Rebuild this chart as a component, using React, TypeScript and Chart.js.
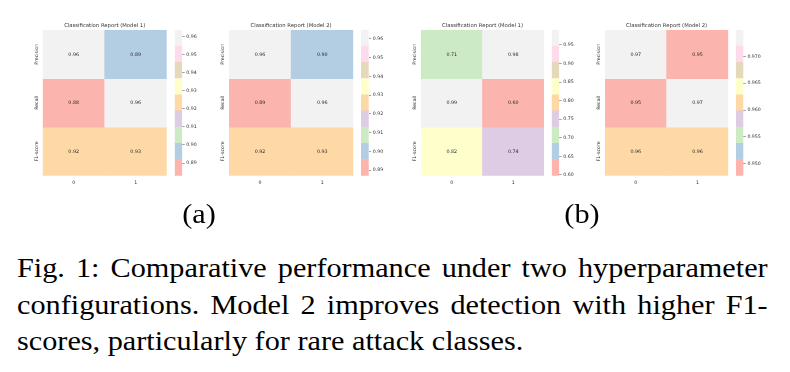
import React, { useEffect, useRef } from "react";
import { Chart, registerables } from "chart.js";

Chart.register(...registerables);

// ---------- data ----------
const rowLabels = ["Precision", "Recall", "F1-score"];
const colLabels = ["0", "1"];
const panelTitles = [
  "Classification Report (Model 1)",
  "Classification Report (Model 2)",
  "Classification Report (Model 1)",
  "Classification Report (Model 2)",
];
// values [row][col]
const valuesA1 = [
  [0.9635, 0.8945],
  [0.883, 0.96],
  [0.922, 0.9265],
];
const valuesA2 = [
  [0.9648, 0.8995],
  [0.887, 0.96],
  [0.9225, 0.927],
];
const valuesB1 = [
  [0.71, 0.98],
  [0.99, 0.598],
  [0.82, 0.74],
];
const valuesB2 = [
  [0.9749, 0.95],
  [0.9478, 0.9725],
  [0.9605, 0.961],
];
const ticksA1 = [0.89, 0.9, 0.91, 0.92, 0.93, 0.94, 0.95, 0.96];
const ticksA2 = [0.89, 0.9, 0.91, 0.92, 0.93, 0.94, 0.95, 0.96];
const ticksB1 = [0.6, 0.65, 0.7, 0.75, 0.8, 0.85, 0.9, 0.95];
const ticksB2 = [0.95, 0.955, 0.96, 0.965, 0.97];
const tickDecimals = [2, 2, 2, 3];
const subLabels = ["(a)", "(b)"];
const captionLines = [
  "Fig. 1: Comparative performance under two hyperparameter",
  "configurations. Model 2 improves detection with higher F1-",
  "scores, particularly for rare attack classes.",
];

// ---------- style / layout ----------
const pastel1 = [
  "#fbb4ae",
  "#b3cde3",
  "#ccebc5",
  "#decbe4",
  "#fed9a6",
  "#ffffcc",
  "#e5d8bd",
  "#fddaec",
  "#f2f2f2",
];
const FONT = '"DejaVu Sans", sans-serif';
const TEXT = "#333333";
const plotTop = 30;
const plotBottom = 175.7;
const canvasTop = 16;
const canvasBottom = 194;
const boxes = [
  { heatL: 42.7, heatR: 166.7, cbL: 174.7, cbR: 182.2 },
  { heatL: 229, heatR: 353.3, cbL: 361, cbR: 368.7 },
  { heatL: 421, heatR: 544, cbL: 551.7, cbR: 559.2 },
  { heatL: 605, heatR: 728.3, cbL: 736, cbR: 743.4 },
];
const allValues = [valuesA1, valuesA2, valuesB1, valuesB2];
const allTicks = [ticksA1, ticksA2, ticksB1, ticksB2];

function range(vals: number[][]) {
  const flat = vals.flat();
  return { vmin: Math.min(...flat), vmax: Math.max(...flat) };
}
function colorFor(v: number, vmin: number, vmax: number) {
  const k = Math.max(0, Math.min(8, Math.floor(((v - vmin) / (vmax - vmin)) * 9)));
  return pastel1[k];
}

const annotPlugin = {
  id: "annot",
  afterDatasetsDraw(chart: any, _args: any, opts: any) {
    const ctx = chart.ctx;
    const vals: number[][] = opts.values;
    ctx.save();
    ctx.font = `${opts.size}px ${FONT}`;
    ctx.fillStyle = "#262626";
    ctx.textAlign = "center";
    ctx.textBaseline = "middle";
    vals.forEach((row, r) => {
      const meta = chart.getDatasetMeta(r);
      row.forEach((v, c) => {
        const el: any = meta.data[c];
        if (!el) return;
        const cy = (el.y + el.base) / 2;
        ctx.fillText(v.toFixed(2), el.x, cy);
      });
    });
    ctx.restore();
  },
};

function ChartBox(props: { left: number; top: number; width: number; height: number; build: () => any }) {
  const ref = useRef<HTMLCanvasElement>(null);
  useEffect(() => {
    const chart = new Chart(ref.current as HTMLCanvasElement, props.build());
    return () => chart.destroy();
  }, []);
  return (
    <canvas
      ref={ref}
      width={props.width}
      height={props.height}
      style={{ position: "absolute", left: props.left, top: props.top, width: props.width, height: props.height }}
    />
  );
}

const TICK_SIZE = 4.7;
const TITLE_SIZE = 5.3;
const ANNOT_SIZE = 4.8;
const CB_SIZE = 4.7;

function heatmapConfig(i: number, left: number, width: number) {
  const b = boxes[i];
  const vals = allValues[i];
  const { vmin, vmax } = range(vals);
  const mctx = document.createElement("canvas").getContext("2d") as CanvasRenderingContext2D;
  mctx.font = `${TICK_SIZE}px ${FONT}`;
  const widest = Math.max(...rowLabels.map((l) => mctx.measureText(l).width));
  const titleLine = TITLE_SIZE * 1.2;
  const titleCenter = 25.5;
  const tpTop = titleCenter - canvasTop - titleLine / 2;
  const tpBottom = plotTop - canvasTop - tpTop - titleLine;
  return {
    type: "bar",
    data: {
      labels: colLabels,
      datasets: rowLabels.map((name, r) => ({
        label: name,
        data: colLabels.map(() => [r, r + 1]),
        backgroundColor: vals[r].map((v) => colorFor(v, vmin, vmax)),
        borderWidth: 0,
        barPercentage: 1,
        categoryPercentage: 1,
        grouped: false,
      })),
    },
    options: {
      animation: false,
      responsive: false,
      layout: { padding: { left: 0, top: 0, bottom: 0, right: left + width - b.heatR } },
      plugins: {
        legend: { display: false },
        tooltip: { enabled: false },
        title: {
          display: true,
          text: panelTitles[i],
          fullSize: false,
          color: TEXT,
          font: { family: FONT, size: TITLE_SIZE, weight: "normal" },
          padding: { top: tpTop, bottom: tpBottom },
        },
        annot: { values: vals, size: ANNOT_SIZE },
      },
      scales: {
        x: {
          type: "category",
          grid: { display: false, drawTicks: false },
          border: { display: false },
          ticks: { color: TEXT, font: { family: FONT, size: TICK_SIZE }, padding: 4, maxRotation: 0 },
          afterFit: (s: any) => {
            s.height = canvasBottom - plotBottom;
          },
        },
        y: {
          type: "linear",
          min: 0,
          max: 3,
          reverse: true,
          grid: { display: false, drawTicks: false },
          border: { display: false },
          afterBuildTicks: (s: any) => {
            s.ticks = rowLabels.map((_, k) => ({ value: k + 0.5 }));
          },
          ticks: {
            callback: (v: any) => rowLabels[Math.floor(Number(v))],
            minRotation: 90,
            maxRotation: 90,
            crossAlign: "center",
            autoSkip: false,
            padding: 6.3 - widest / 2,
            color: TEXT,
            font: { family: FONT, size: TICK_SIZE },
          },
          afterFit: (s: any) => {
            s.width = b.heatL - left;
          },
        },
      },
    },
    plugins: [annotPlugin],
  };
}

function colorbarConfig(i: number, left: number, width: number) {
  const b = boxes[i];
  const { vmin, vmax } = range(allValues[i]);
  const w = (vmax - vmin) / 9;
  const dec = tickDecimals[i];
  return {
    type: "bar",
    data: {
      labels: [""],
      datasets: pastel1.map((c, k) => ({
        data: [[vmin + k * w, vmin + (k + 1) * w]],
        backgroundColor: c,
        borderWidth: 0,
        barPercentage: 1,
        categoryPercentage: 1,
        grouped: false,
      })),
    },
    options: {
      animation: false,
      responsive: false,
      layout: {
        padding: { left: b.cbL - left, top: plotTop - canvasTop, bottom: canvasBottom - plotBottom, right: 0 },
      },
      plugins: { legend: { display: false }, tooltip: { enabled: false } },
      scales: {
        x: { type: "category", display: false },
        y: {
          type: "linear",
          position: "right",
          min: vmin,
          max: vmax,
          bounds: "data",
          grid: { display: true, drawOnChartArea: false, drawTicks: true, tickLength: 2.5, color: "#666666", lineWidth: 0.6 },
          border: { display: false },
          afterBuildTicks: (s: any) => {
            s.ticks = allTicks[i].map((v) => ({ value: v }));
          },
          ticks: {
            callback: (v: any) => Number(v).toFixed(dec),
            autoSkip: false,
            padding: 1.5,
            color: TEXT,
            font: { family: FONT, size: CB_SIZE },
          },
          afterFit: (s: any) => {
            s.width = left + width - b.cbR;
          },
        },
      },
    },
  };
}

const CAP_SIZE = 27;
const CAP_SCALE = 1.12;
const CAP_LEFT = 17.3;
const CAP_RIGHT = 768;

export default function App() {
  const capWidth = (CAP_RIGHT - CAP_LEFT) / CAP_SCALE;
  const serif = '"Liberation Serif", "Times New Roman", serif';
  return (
    <div style={{ position: "absolute", left: 0, top: 0, width: 790, height: 372, background: "#ffffff", overflow: "hidden" }}>
      {boxes.map((b, i) => {
        const hl = Math.floor(b.heatL) - 18;
        const hw = Math.ceil(b.heatR) + 6 - hl;
        const cl = Math.floor(b.cbL) - 2;
        const cw = Math.ceil(b.cbR) + 22 - cl;
        return (
          <React.Fragment key={i}>
            <ChartBox left={hl} top={canvasTop} width={hw} height={canvasBottom - canvasTop} build={() => heatmapConfig(i, hl, hw)} />
            <ChartBox left={cl} top={canvasTop} width={cw} height={canvasBottom - canvasTop} build={() => colorbarConfig(i, cl, cw)} />
          </React.Fragment>
        );
      })}
      {subLabels.map((s, i) => (
        <div
          key={s}
          style={{
            position: "absolute",
            left: (i === 0 ? 199 : 582) - 50,
            top: 196,
            width: 100,
            textAlign: "center",
            fontFamily: serif,
            fontSize: CAP_SIZE,
            lineHeight: "36px",
            color: "#000",
            transform: `scaleX(${CAP_SCALE})`,
            transformOrigin: "center top",
          }}
        >
          {s}
        </div>
      ))}
      <div
        style={{
          position: "absolute",
          left: CAP_LEFT,
          top: 250,
          width: capWidth,
          transform: `scaleX(${CAP_SCALE})`,
          transformOrigin: "left top",
          fontFamily: serif,
          fontSize: CAP_SIZE,
          lineHeight: "36.6px",
          color: "#000",
          whiteSpace: "nowrap",
        }}
      >
        {captionLines.map((line, k) => (
          <div
            key={k}
            style={{
              textAlign: k < captionLines.length - 1 ? "justify" : "left",
              textAlignLast: k < captionLines.length - 1 ? "justify" : "left",
              whiteSpace: "normal",
            } as any}
          >
            {line}
          </div>
        ))}
      </div>
    </div>
  );
}
